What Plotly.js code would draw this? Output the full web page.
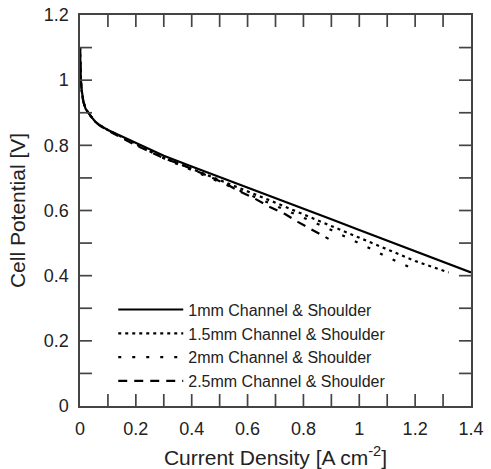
<!DOCTYPE html>
<html>
<head>
<meta charset="utf-8">
<script src="https://cdn.plot.ly/plotly-3.0.1.min.js"></script>
<style>html,body{margin:0;padding:0;background:#fff;}#chart{width:491px;height:469px;}</style>
</head>
<body>
<div id="chart"></div>
<script>
// Current density [A cm^-2] and cell potential [V]
var x1mm  = [0, 0.001, 0.003, 0.006, 0.012, 0.02, 0.03, 0.04, 0.054, 0.07, 0.1, 0.13, 0.161, 0.22, 0.3, 0.4, 0.5, 0.6, 0.7, 0.8, 0.9, 1.0, 1.1, 1.2, 1.3, 1.4];
var v1mm  = [1.10, 1.04, 1.00, 0.97, 0.934, 0.912, 0.898, 0.888, 0.873, 0.862, 0.847, 0.835, 0.822, 0.798, 0.768, 0.735, 0.703, 0.671, 0.639, 0.606, 0.573, 0.54, 0.507, 0.475, 0.443, 0.41];

var x15mm = [0, 0.001, 0.003, 0.006, 0.012, 0.02, 0.03, 0.04, 0.054, 0.07, 0.1, 0.13, 0.161, 0.2, 0.3, 0.4, 0.5, 0.6, 0.7, 0.8, 0.9, 1.0, 1.1, 1.2, 1.32];
var v15mm = [1.10, 1.04, 1.00, 0.97, 0.934, 0.912, 0.898, 0.888, 0.873, 0.862, 0.847, 0.834, 0.821, 0.805, 0.762, 0.728, 0.694, 0.659, 0.624, 0.588, 0.552, 0.515, 0.48, 0.445, 0.41];

var x2mm  = [0, 0.001, 0.003, 0.006, 0.012, 0.02, 0.03, 0.04, 0.054, 0.07, 0.1, 0.13, 0.161, 0.2, 0.3, 0.4, 0.5, 0.6, 0.7, 0.8, 0.9, 1.0, 1.05, 1.1, 1.157, 1.21];
var v2mm  = [1.10, 1.04, 1.00, 0.97, 0.934, 0.912, 0.898, 0.888, 0.873, 0.862, 0.846, 0.833, 0.82, 0.803, 0.76, 0.724, 0.688, 0.652, 0.616, 0.578, 0.54, 0.50, 0.479, 0.457, 0.435, 0.414];

var x25mm = [0, 0.001, 0.003, 0.006, 0.012, 0.02, 0.03, 0.04, 0.054, 0.07, 0.1, 0.13, 0.161, 0.2, 0.304, 0.358, 0.41, 0.465, 0.52, 0.573, 0.627, 0.68, 0.734, 0.78, 0.835, 0.89];
var v25mm = [1.10, 1.04, 1.00, 0.97, 0.934, 0.912, 0.898, 0.888, 0.873, 0.861, 0.845, 0.831, 0.818, 0.80, 0.759, 0.743, 0.724, 0.704, 0.683, 0.658, 0.636, 0.611, 0.589, 0.565, 0.54, 0.513];

var seriesNames = ["1mm Channel & Shoulder", "1.5mm Channel & Shoulder", "2mm Channel & Shoulder", "2.5mm Channel & Shoulder"];

// Tick positions (every 0.1; labels every 0.2)
var xTicks = [0.1, 0.2, 0.3, 0.4, 0.5, 0.6, 0.7, 0.8, 0.9, 1.0, 1.1, 1.2, 1.3];
var yTicks = [0.1, 0.2, 0.3, 0.4, 0.5, 0.6, 0.7, 0.8, 0.9, 1.0, 1.1];

var xRange = [0, 1.4];
var yRange = [0, 1.2];

var W = 491, H = 469, M = {l: 80, r: 20, t: 15, b: 63};
var TL = 12; // inner tick length in px
var dxTick = TL * (xRange[1] - xRange[0]) / (W - M.l - M.r);
var dyTick = TL * (yRange[1] - yRange[0]) / (H - M.t - M.b);

// Inner tick marks on all four sides, as segments through the axes' scales
var tx = [], ty = [];
xTicks.forEach(function (v) {
  tx.push(v, v, null, v, v, null);
  ty.push(yRange[0], yRange[0] + dyTick, null, yRange[1], yRange[1] - dyTick, null);
});
yTicks.forEach(function (v) {
  tx.push(xRange[0], xRange[0] + dxTick, null, xRange[1], xRange[1] - dxTick, null);
  ty.push(v, v, null, v, v, null);
});

var lineBase = {color: '#000', width: 2.2};
var traces = [
  {x: x1mm, y: v1mm, name: seriesNames[0], mode: 'lines', line: Object.assign({}, lineBase)},
  {x: x15mm, y: v15mm, name: seriesNames[1], mode: 'lines', line: Object.assign({}, lineBase, {dash: '3px,4px'})},
  {x: x2mm, y: v2mm, name: seriesNames[2], mode: 'lines', line: Object.assign({}, lineBase, {dash: '3px,11px'})},
  {x: x25mm, y: v25mm, name: seriesNames[3], mode: 'lines', line: Object.assign({}, lineBase, {dash: '9px,7px'})},
  {x: tx, y: ty, mode: 'lines', showlegend: false, hoverinfo: 'skip', connectgaps: false, cliponaxis: false, line: {color: '#444', width: 1.7}}
];

var axisCommon = {
  showgrid: false, zeroline: false, showline: true, linecolor: '#444', linewidth: 1.7,
  mirror: true, ticks: '',
  tickfont: {family: 'Liberation Sans, Arial, sans-serif', size: 18, color: '#222'},
  tickmode: 'linear', tick0: 0, dtick: 0.2
};

var layout = {
  width: W, height: H,
  margin: M,
  paper_bgcolor: '#fff', plot_bgcolor: '#fff',
  font: {family: 'Liberation Sans, Arial, sans-serif', color: '#222'},
  xaxis: Object.assign({}, axisCommon, {
    range: xRange, ticklabelstandoff: 6,
    title: {text: 'Current Density [A cm<sup>-2</sup>]', font: {size: 21, color: '#222'}, standoff: 12}
  }),
  yaxis: Object.assign({}, axisCommon, {
    range: yRange, ticklabelstandoff: 6,
    title: {text: 'Cell Potential [V]', font: {size: 21, color: '#222'}, standoff: 12}
  }),
  showlegend: true,
  legend: {
    x: 0.085, y: 0.29, xanchor: 'left', yanchor: 'top',
    bgcolor: 'rgba(0,0,0,0)', borderwidth: 0,
    font: {size: 16, color: '#222'}, itemwidth: 65, tracegroupgap: 0
  }
};

Plotly.newPlot('chart', traces, layout, {staticPlot: true, displayModeBar: false});
</script>
</body>
</html>
